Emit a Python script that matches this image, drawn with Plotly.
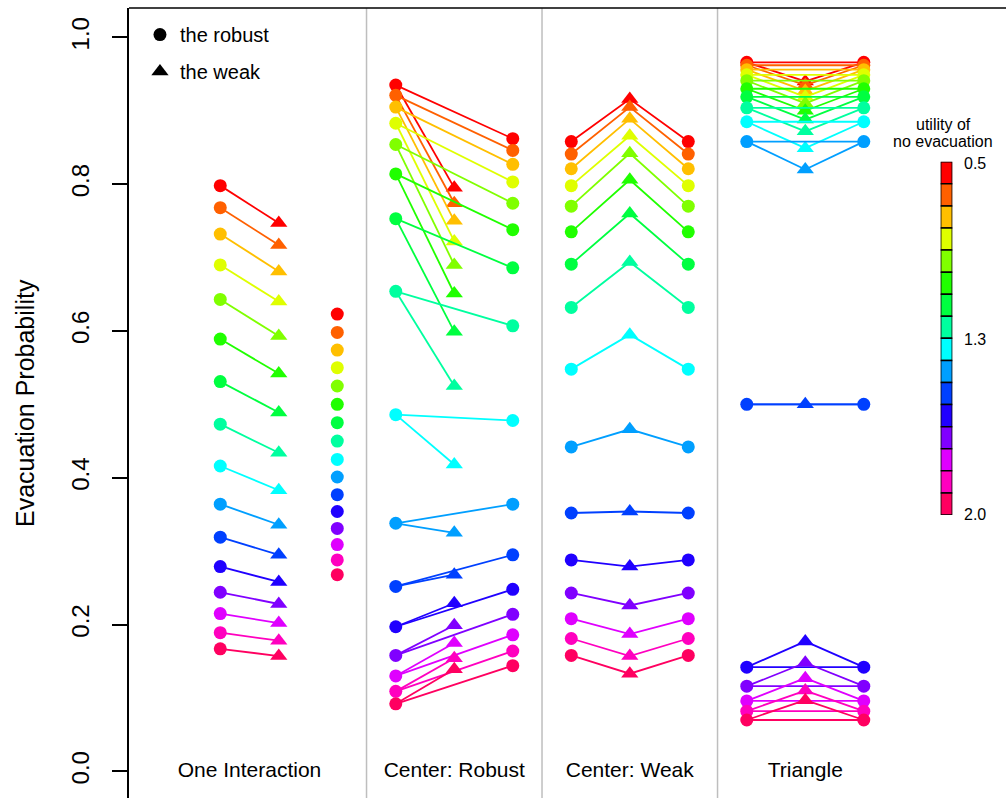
import plotly.graph_objects as go

# utility of no evacuation (0.5 .. 2.0) and its colour (R rainbow(16))
utility = [0.5, 0.6, 0.7, 0.8, 0.9, 1.0, 1.1, 1.2, 1.3, 1.4, 1.5, 1.6, 1.7, 1.8, 1.9, 2.0]
colors = ["#FF0000", "#FF6000", "#FFBF00", "#DFFF00", "#80FF00", "#20FF00", "#00FF40", "#00FF9F",
          "#00FFFF", "#009FFF", "#0040FF", "#2000FF", "#8000FF", "#DF00FF", "#FF00BF", "#FF0060"]

# One Interaction
one_robust = [0.798, 0.768, 0.732, 0.690, 0.643, 0.589, 0.531, 0.473,
              0.416, 0.364, 0.319, 0.279, 0.244, 0.215, 0.189, 0.167]
one_weak = [0.747, 0.717, 0.681, 0.640, 0.593, 0.542, 0.489, 0.434,
            0.383, 0.336, 0.295, 0.258, 0.228, 0.202, 0.178, 0.157]
one_single = [0.623, 0.598, 0.574, 0.550, 0.525, 0.500, 0.475, 0.450,
              0.425, 0.401, 0.377, 0.354, 0.331, 0.309, 0.288, 0.268]

# Center: Robust
cr_center = [0.935, 0.921, 0.905, 0.883, 0.854, 0.814, 0.753, 0.654,
             0.486, 0.338, 0.252, 0.197, 0.158, 0.130, 0.109, 0.092]
cr_weak = [0.795, 0.774, 0.750, 0.722, 0.690, 0.651, 0.599, 0.525,
           0.418, 0.325, 0.268, 0.229, 0.199, 0.175, 0.154, 0.139]
cr_robust = [0.862, 0.846, 0.827, 0.803, 0.774, 0.738, 0.686, 0.607,
             0.478, 0.364, 0.295, 0.248, 0.214, 0.186, 0.164, 0.144]

# Center: Weak
cw_robust = [0.858, 0.841, 0.821, 0.798, 0.770, 0.735, 0.691, 0.632,
             0.548, 0.442, 0.352, 0.288, 0.243, 0.208, 0.181, 0.158]
cw_center = [0.916, 0.905, 0.889, 0.866, 0.842, 0.806, 0.760, 0.694,
             0.595, 0.466, 0.354, 0.279, 0.226, 0.187, 0.157, 0.133]

# Triangle
tri_robust = [0.966, 0.962, 0.956, 0.949, 0.941, 0.930, 0.919, 0.904,
              0.885, 0.858, 0.500, 0.142, 0.116, 0.096, 0.082, 0.070]
tri_weak = [0.940, 0.935, 0.927, 0.919, 0.910, 0.900, 0.888, 0.872,
            0.849, 0.820, 0.500, 0.177, 0.148, 0.127, 0.110, 0.097]

panel_names = ["One Interaction", "Center: Robust", "Center: Weak", "Triangle"]
panel_label_x = [1.5, 5, 8, 11]
panel_breaks = [3.5, 6.5, 9.5]

FONT = "Liberation Sans, Arial, Helvetica, sans-serif"
LW = 1.8
CIRCLE = dict(symbol="circle", size=13, line=dict(width=0))
TRI = dict(symbol="triangle-up", size=15, line=dict(width=0))

fig = go.Figure()


def segs(pairs):
    xs, ys = [], []
    for (x0, y0), (x1, y1) in pairs:
        xs += [x0, x1, None]
        ys += [y0, y1, None]
    return xs, ys


def add_lines(xs, ys, color):
    fig.add_trace(go.Scatter(x=xs, y=ys, mode="lines", line=dict(color=color, width=LW),
                             showlegend=False, hoverinfo="skip"))


def add_pts(xs, ys, color, marker):
    fig.add_trace(go.Scatter(x=xs, y=ys, mode="markers", marker=dict(color=color, **marker),
                             showlegend=False))


for i, c in enumerate(colors):
    # One Interaction: robust -> weak, plus single column
    xs, ys = segs([((1, one_robust[i]), (2, one_weak[i]))])
    add_lines(xs, ys, c)
    add_pts([1, 3], [one_robust[i], one_single[i]], c, CIRCLE)
    add_pts([2], [one_weak[i]], c, TRI)

    # Center: Robust: centre node linked to weak and to robust
    xs, ys = segs([((4, cr_center[i]), (5, cr_weak[i])),
                   ((4, cr_center[i]), (6, cr_robust[i]))])
    add_lines(xs, ys, c)
    add_pts([4, 6], [cr_center[i], cr_robust[i]], c, CIRCLE)
    add_pts([5], [cr_weak[i]], c, TRI)

    # Center: Weak: robust - weak centre - robust
    add_lines([7, 8, 9], [cw_robust[i], cw_center[i], cw_robust[i]], c)
    add_pts([7, 9], [cw_robust[i], cw_robust[i]], c, CIRCLE)
    add_pts([8], [cw_center[i]], c, TRI)

    # Triangle: all three nodes connected
    xs, ys = segs([((10, tri_robust[i]), (11, tri_weak[i])),
                   ((11, tri_weak[i]), (12, tri_robust[i])),
                   ((10, tri_robust[i]), (12, tri_robust[i]))])
    add_lines(xs, ys, c)
    add_pts([10, 12], [tri_robust[i], tri_robust[i]], c, CIRCLE)
    add_pts([11], [tri_weak[i]], c, TRI)

# panel captions
fig.add_trace(go.Scatter(x=panel_label_x, y=[0] * 4, mode="text", text=panel_names,
                         textfont=dict(size=21, color="black", family=FONT),
                         showlegend=False, hoverinfo="skip"))

# legend keys
fig.add_trace(go.Scatter(x=[None], y=[None], mode="markers", name="the robust",
                         marker=dict(color="black", symbol="circle", size=13), legendgroup="a"))
fig.add_trace(go.Scatter(x=[None], y=[None], mode="markers", name="the weak",
                         marker=dict(color="black", symbol="triangle-up", size=15), legendgroup="b"))

# colour key for the utility values
fig.add_trace(go.Bar(x=[0] * len(utility), y=[0.1] * len(utility),
                     base=[u - 0.05 for u in utility], width=1,
                     marker=dict(color=colors, line=dict(color="black", width=1.5)),
                     xaxis="x2", yaxis="y2", showlegend=False, hoverinfo="skip"))

shapes = [dict(type="line", xref="x", yref="paper", x0=b, x1=b, y0=0, y1=1,
               line=dict(color="#BEBEBE", width=1.5)) for b in panel_breaks]
shapes.append(dict(type="line", xref="paper", yref="paper", x0=0, x1=1, y0=1, y1=1,
                   line=dict(color="black", width=1.5)))

annotations = [
    dict(text="Evacuation Probability", xref="paper", yref="paper", x=-0.1186, y=0.5,
         textangle=-90, showarrow=False, font=dict(size=25, color="black", family=FONT),
         xanchor="center", yanchor="middle"),
    dict(text="utility of", xref="paper", yref="paper", x=0.9287, y=0.8519, showarrow=False,
         font=dict(size=16, color="black", family=FONT), xanchor="center", yanchor="middle"),
    dict(text="no evacuation", xref="paper", yref="paper", x=0.9287, y=0.8316, showarrow=False,
         font=dict(size=16, color="black", family=FONT), xanchor="center", yanchor="middle"),
]
for lab, py in [("0.5", 163), ("1.3", 339), ("2.0", 514)]:
    annotations.append(dict(text=lab, xref="paper", yref="paper", x=0.9495, y=(798 - py) / 790,
                            showarrow=False, font=dict(size=16, color="black", family=FONT),
                            xanchor="left", yanchor="middle"))

fig.update_layout(
    width=1006, height=798,
    margin=dict(l=129, r=0, t=8, b=0),
    paper_bgcolor="white", plot_bgcolor="white",
    font=dict(family=FONT, color="black"),
    xaxis=dict(range=[-0.56, 14.431], visible=False, showgrid=False, zeroline=False),
    yaxis=dict(range=[-0.0363, 1.04], tickvals=[0, 0.2, 0.4, 0.6, 0.8, 1.0],
               ticktext=["0.0", "0.2", "0.4", "0.6", "0.8", "1.0"],
               ticks="outside", ticklen=15, tickwidth=1.5, tickcolor="black",
               showline=True, linecolor="black", linewidth=1.5,
               tickangle=-90, tickfont=dict(size=24, color="black", family=FONT),
               ticklabelstandoff=14,
               showgrid=False, zeroline=False),
    xaxis2=dict(domain=[0.9255, 0.9388], range=[-0.5, 0.5], visible=False, anchor="y2"),
    yaxis2=dict(domain=[0.3582, 0.8054], range=[2.05, 0.45], visible=False, anchor="x2"),
    showlegend=True,
    legend=dict(x=0.0125, y=0.991, xanchor="left", yanchor="top",
                font=dict(size=20, color="black", family=FONT),
                bgcolor="rgba(0,0,0,0)", tracegroupgap=8, itemclick=False),
    shapes=shapes,
    annotations=annotations,
)

fig.write_html("out.html")
